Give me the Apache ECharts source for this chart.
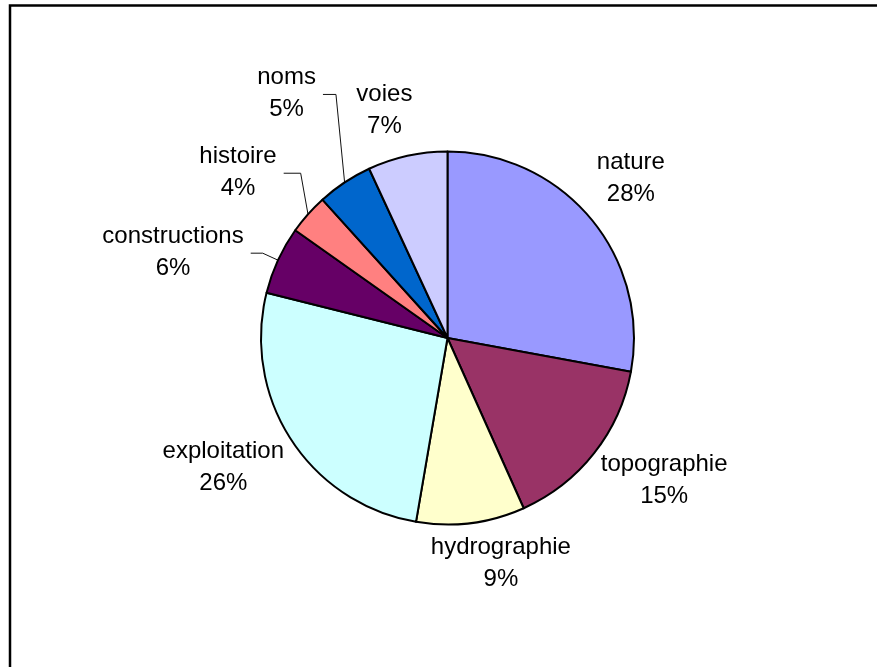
<!DOCTYPE html>
<html>
<head>
<meta charset="utf-8">
<script src="https://cdn.jsdelivr.net/npm/echarts@6/dist/echarts.min.js"></script>
<style>
  html, body { margin: 0; padding: 0; background: #fff; }
  #chart { width: 877px; height: 667px; }
</style>
</head>
<body>
<div id="chart"></div>
<script>
// Share of each theme (percent)
const categories = ['nature', 'topographie', 'hydrographie', 'exploitation', 'constructions', 'histoire', 'noms', 'voies'];
const values = [27.9, 15.4, 9.4, 26.2, 5.9, 3.5, 4.8, 6.9];
const colors = ['#9999FF', '#993366', '#FFFFCC', '#CCFFFF', '#660066', '#FF8080', '#0066CC', '#CCCCFF'];

// Which labels get a leader line back to their slice
const leaderLines = [false, false, false, false, true, true, true, false];
// Offset of each label's centre from the rim point at the middle of its slice
const labelShift = [[40, -40], [70, 27], [30, 40], [-68, 27], [-105, -8], [-70, -42], [-58, -89], [-23, -45]];
// Length of the horizontal run of each leader line
const leaderRun = [0, 0, 0, 0, 12, 17, 13, 0];

const chart = echarts.init(document.getElementById('chart'), null, { renderer: 'canvas' });

const seriesData = categories.map((name, i) => ({
  name: name,
  value: values[i],
  itemStyle: { color: colors[i] },
  labelLine: { lineStyle: { opacity: leaderLines[i] ? 1 : 0 } }
}));

chart.setOption({
  animation: false,
  backgroundColor: '#ffffff',
  graphic: [{
    type: 'rect',
    shape: { x: 10, y: 5.5, width: 900, height: 700 },
    style: { fill: 'none', stroke: '#000', lineWidth: 2.5 },
    silent: true
  }],
  series: [{
    type: 'pie',
    center: [447.5, 338],
    radius: 186.5,
    startAngle: 90,
    clockwise: true,
    avoidLabelOverlap: false,
    percentPrecision: 0,
    itemStyle: { borderColor: '#000', borderWidth: 2 },
    emphasis: { disabled: true },
    label: {
      show: true,
      position: 'outside',
      formatter: '{b}\n{d}%',
      fontFamily: 'Liberation Sans, Arial, sans-serif',
      fontSize: 24,
      lineHeight: 32,
      color: '#000'
    },
    labelLine: {
      show: true,
      length: 10,
      length2: 10,
      lineStyle: { color: '#111', width: 1 }
    },
    labelLayout: function (p) {
      const i = p.dataIndex;
      const rim = p.labelLinePoints[0];
      const cx = rim[0] + labelShift[i][0];
      const cy = rim[1] + labelShift[i][1];
      const out = { x: cx, y: cy, align: 'center', verticalAlign: 'middle' };
      if (leaderLines[i]) {
        const right = cx + p.labelRect.width / 2 + 7;
        const yLine = cy + 1;
        out.labelLinePoints = [rim, [right + leaderRun[i], yLine], [right, yLine]];
      } else {
        out.labelLinePoints = [rim, rim, rim];
      }
      return out;
    },
    data: seriesData
  }]
});
</script>
</body>
</html>
